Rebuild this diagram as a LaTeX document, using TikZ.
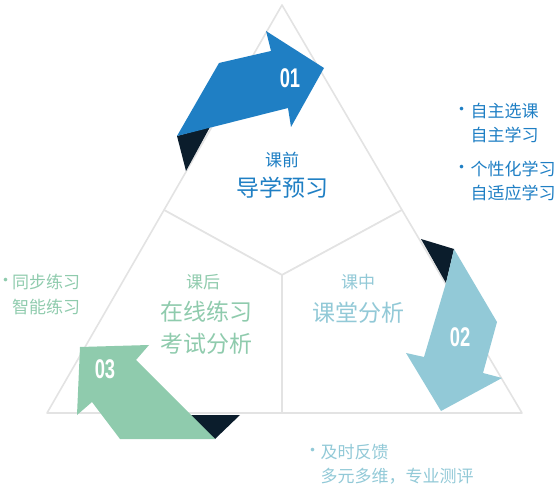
\documentclass[tikz,border=0pt]{standalone}
\usepackage{fontspec}
\setmainfont{Noto Sans CJK SC}
\newfontfamily\numfont{Liberation Sans}[FakeStretch=0.68]
\usetikzlibrary{positioning}
\definecolor{arrblue}{HTML}{1F7FC4}
\definecolor{arrcyan}{HTML}{92C9D7}
\definecolor{arrgreen}{HTML}{8FCBAD}
\definecolor{folddark}{HTML}{0B1D2C}
\definecolor{edgegray}{HTML}{E3E3E3}
\newcommand{\bulletmark}{\makebox[0pt][c]{•}}

\begin{document}
\begin{tikzpicture}[x=1pt, y=-1pt,
  piece/.style={draw=edgegray, line width=1.6pt, line join=round, fill=white},
  fold/.style={fill=folddark},
  num/.style={text=white, inner sep=0pt, font=\numfont\bfseries\fontsize{27}{27}\selectfont},
  tag/.style={inner sep=0pt, font=\fontsize{17}{17}\selectfont},
  title/.style={inner sep=0pt, font=\fontsize{23}{23}\selectfont},
  item/.style={anchor=west, inner sep=0pt, font=\fontsize{17}{17}\selectfont},
  dot/.style={inner sep=0pt, font=\fontsize{17}{17}\selectfont},
]
\useasboundingbox (0,0) rectangle (557,486);

% triangle split into three pieces
\coordinate (apex) at (282,5);
\coordinate (bl) at (47,413);
\coordinate (br) at (522,413);
\coordinate (ml) at (164,210);
\coordinate (mr) at (402,210);
\coordinate (ctr) at (282,275);
\coordinate (bm) at (282,413);
\draw[piece] (apex) -- (ml) -- (ctr) -- (mr) -- cycle;
\draw[piece] (ml) -- (bl) -- (bm) -- (ctr) -- cycle;
\draw[piece] (mr) -- (ctr) -- (bm) -- (br) -- cycle;

% arrow 01
\fill[fold] (177,136) -- (210,127) -- (186,171) -- cycle;
\fill[arrblue] (177,136) -- (219,63) -- (271,51) -- (266,31) -- (324,68)
  -- (291,127) -- (288,108) -- cycle;
\node[num] (num1) at (290,78) {01};

% arrow 02
\fill[fold] (421,239) -- (454,249) -- (446,283) -- cycle;
\fill[arrcyan] (454,249) -- (497,322) -- (483,373) -- (502,378) -- (441,411)
  -- (406,353) -- (424,357) -- (446,283) -- cycle;
\node[num] (num2) at (460,337) {02};

% arrow 03
\fill[fold] (187,415) -- (240,415) -- (215,439) -- cycle;
\fill[arrgreen] (80,347) -- (149,345) -- (136,360) -- (215,439) -- (120,439)
  -- (92,402) -- (77,415) -- cycle;
\node[num] (num3) at (105,369) {03};

% labels inside the pieces
\node[tag, text=arrblue] (preTag) at (282,160) {课前};
\node[title, text=arrblue] (preMain) at (282,188) {导学预习};
\node[tag, text=arrgreen] (postTag) at (203,282) {课后};
\node[title, text=arrgreen] (postMainA) at (206,312) {在线练习};
\node[title, text=arrgreen] (postMainB) at (206,344) {考试分析};
\node[tag, text=arrcyan] (inTag) at (358,282) {课中};
\node[title, text=arrcyan] (inMain) at (358,313) {课堂分析};

% side notes
\node[dot, text=arrblue] (preDotA) at (461.5,111) {\bulletmark};
\node[item, text=arrblue] (preItemA) at (470.5,111) {自主选课};
\node[item, text=arrblue] (preItemB) at (470.5,135) {自主学习};
\node[dot, text=arrblue] (preDotB) at (461.5,169) {\bulletmark};
\node[item, text=arrblue] (preItemC) at (470.5,169) {个性化学习};
\node[item, text=arrblue] (preItemD) at (470.5,193) {自适应学习};

\node[dot, text=arrgreen] (postDot) at (5.5,282) {\bulletmark};
\node[item, text=arrgreen] (postItemA) at (12,282) {同步练习};
\node[item, text=arrgreen] (postItemB) at (12,307) {智能练习};

\node[dot, text=arrcyan] (inDot) at (312.7,452.5) {\bulletmark};
\node[item, text=arrcyan] (inItemA) at (320.5,452.5) {及时反馈};
\node[item, text=arrcyan] (inItemB) at (320.5,476.5) {多元多维，专业测评};
\end{tikzpicture}
\end{document}
